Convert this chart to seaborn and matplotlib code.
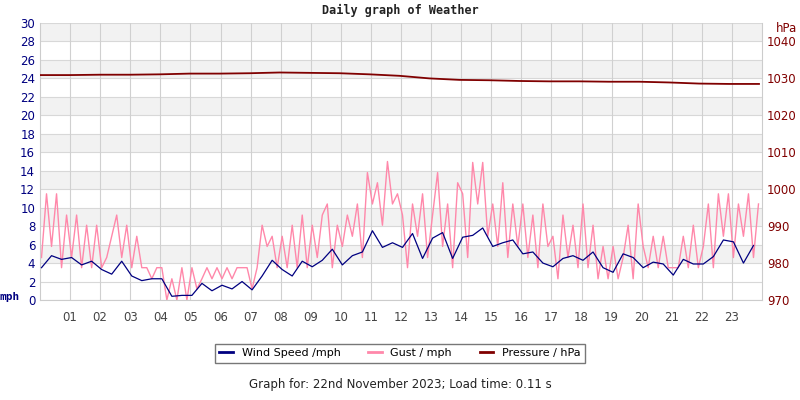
import numpy as np
import pandas as pd
import seaborn as sns
from matplotlib import pyplot as plt
from matplotlib.lines import Line2D

# gust readings, six per hour (mph)
gust = [
    4.6, 11.5, 5.8, 11.5, 3.5, 9.2,
    4.6, 9.2, 3.5, 8.1, 3.5, 8.1,
    3.5, 4.6, 6.9, 9.2, 4.6, 8.1,
    3.5, 6.9, 3.5, 3.5, 2.3, 3.5,
    3.5, 0.0, 2.3, 0.0, 3.5, 0.0,
    3.5, 1.2, 2.3, 3.5, 2.3, 3.5,
    2.3, 3.5, 2.3, 3.5, 3.5, 3.5,
    1.2, 3.5, 8.1, 5.8, 6.9, 3.5,
    6.9, 3.5, 8.1, 3.5, 9.2, 3.5,
    8.1, 4.6, 9.2, 10.4, 3.5, 8.1,
    5.8, 9.2, 6.9, 10.4, 4.6, 13.8,
    10.4, 12.7, 8.1, 15.0, 10.4, 11.5,
    9.2, 3.5, 10.4, 6.9, 11.5, 4.6,
    9.2, 13.8, 5.8, 10.4, 3.5, 12.7,
    11.5, 4.6, 14.9, 10.4, 14.9, 6.9,
    10.4, 5.8, 12.7, 4.6, 10.4, 5.8,
    10.4, 4.6, 9.2, 3.5, 10.4, 5.8,
    6.9, 2.3, 9.2, 4.6, 8.1, 3.5,
    10.4, 3.5, 8.1, 2.3, 5.8, 2.3,
    5.8, 2.3, 4.6, 8.1, 2.3, 10.4,
    5.8, 3.5, 6.9, 3.5, 6.9, 3.5,
    3.5, 3.5, 6.9, 3.5, 8.1, 3.5,
    5.8, 10.4, 3.5, 11.5, 6.9, 11.5,
    4.6, 10.4, 6.9, 11.5, 4.6, 10.4,
]
# wind speed, three per hour (mph)
wind = [
    3.5, 4.8, 4.4,  4.6, 3.8, 4.2,  3.3, 2.8, 4.2,  2.6, 2.1, 2.3,
    2.3, 0.4, 0.5,  0.5, 1.8, 1.0,  1.6, 1.2, 2.0,  1.1, 2.6, 4.3,
    3.3, 2.6, 4.2,  3.6, 4.3, 5.5,  3.8, 4.8, 5.2,  7.5, 5.7, 6.2,
    5.7, 7.2, 4.5,  6.7, 7.3, 4.5,  6.8, 7.0, 7.8,  5.8, 6.2, 6.5,
    5.0, 5.2, 4.0,  3.6, 4.5, 4.8,  4.3, 5.2, 3.5,  3.0, 5.0, 4.6,
    3.5, 4.1, 3.9,  2.7, 4.4, 3.9,  3.9, 4.7, 6.5,  6.3, 4.0, 5.9,
]
# pressure, hourly (hPa)
pressure = [1030.9, 1030.9, 1031.0, 1031.0, 1031.1, 1031.3, 1031.3, 1031.4,
            1031.6, 1031.5, 1031.4, 1031.1, 1030.7, 1030.0, 1029.6, 1029.5,
            1029.3, 1029.2, 1029.2, 1029.1, 1029.1, 1028.9, 1028.6, 1028.5, 1028.5]
hour_labels = ['%02d' % h for h in range(1, 24)]

gust_df = pd.DataFrame({'t': np.arange(len(gust)) / 6 + 0.05, 'v': gust})
wind_df = pd.DataFrame({'t': np.arange(len(wind)) / 3 + 0.05, 'v': wind})
pres_df = pd.DataFrame({'t': np.arange(len(pressure)) * 23.9 / 24, 'v': pressure})

NAVY = '#000080'
PINK = '#ff88aa'
RED = '#800000'

fig = plt.figure(figsize=(8, 4), dpi=100)
ax = fig.add_axes([0.05, 0.25, 0.9025, 0.6925])
for lo in range(4, 30, 4):
    ax.axhspan(lo, lo + 2, color='#f2f2f2', lw=0, zorder=0)
for y in range(0, 31, 2):
    ax.axhline(y, color='#d8d8d8', lw=0.8, zorder=0.5)
for h in range(1, 24):
    ax.axvline(h, color='#d0d0d0', lw=0.8, zorder=0.5)

sns.lineplot(data=gust_df, x='t', y='v', ax=ax, color=PINK, lw=1, zorder=2)
sns.lineplot(data=wind_df, x='t', y='v', ax=ax, color=NAVY, lw=0.9, zorder=3)
ax.set_xlim(0, 24)
ax.set_ylim(0, 30)
ax.set_yticks(range(0, 31, 2))
ax.set_xticks(range(1, 24))
ax.set_xticklabels(hour_labels)
ax.tick_params(axis='y', colors=NAVY, labelsize=8.5, length=0)
ax.tick_params(axis='x', labelcolor='#444444', labelsize=8.5, length=0, pad=8)
ax.set_xlabel('')
ax.set_ylabel('')
for s in ['top', 'right']:
    ax.spines[s].set_visible(False)
ax.spines['left'].set_color('#cccccc')
ax.spines['bottom'].set_color('#cccccc')

ax2 = ax.twinx()
sns.lineplot(data=pres_df, x='t', y='v', ax=ax2, color=RED, lw=1.3, zorder=4)
ax2.set_ylim(970, 1045)
ax2.set_yticks(range(970, 1041, 10))
ax2.tick_params(axis='y', colors=RED, labelsize=8.5, length=0)
ax2.set_ylabel('')
for s in ['top', 'left', 'bottom']:
    ax2.spines[s].set_visible(False)
ax2.spines['right'].set_color('#cccccc')

fig.text(0.0, 0.25, 'mph', color=NAVY, fontsize=8, fontweight='bold',
         family='DejaVu Sans Mono')
fig.text(0.97, 0.92, 'hPa', color=RED, fontsize=8.5)
fig.text(0.5, 0.965, 'Daily graph of Weather', ha='center', fontsize=8.5,
         family='DejaVu Sans Mono', fontweight='bold', color='#222222')
fig.text(0.5, 0.03, 'Graph for: 22nd November 2023; Load time: 0.11 s', ha='center',
         fontsize=8.5, color='#222222')

handles = [Line2D([], [], color=NAVY, lw=2), Line2D([], [], color=PINK, lw=2),
           Line2D([], [], color=RED, lw=2)]
fig.legend(handles, ['Wind Speed /mph', 'Gust / mph', 'Pressure / hPa'],
           loc='center', bbox_to_anchor=(0.5, 0.117), ncol=3, fontsize=8,
           frameon=True, fancybox=False, edgecolor='#555555', handlelength=1.2,
           columnspacing=2.5)

fig.savefig('out.png', dpi=100)
